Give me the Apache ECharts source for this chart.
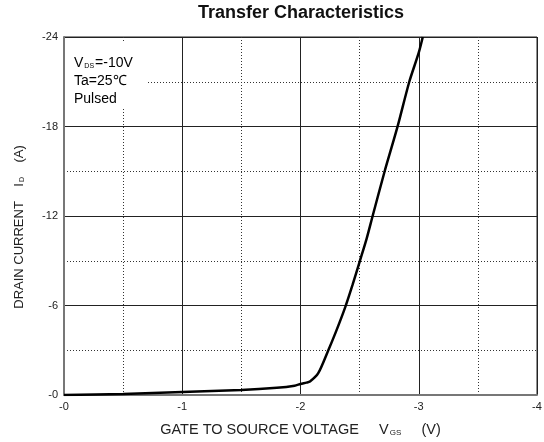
<!DOCTYPE html>
<html>
<head>
<meta charset="utf-8">
<script src="https://cdn.jsdelivr.net/npm/echarts@6/dist/echarts.min.js"></script>
<style>
  html, body { margin: 0; padding: 0; background: #fff; }
  #chart { width: 544px; height: 442px; }
</style>
</head>
<body>
<div id="chart"></div>
<script>
// Gate-source voltage (V) and drain current (A), VDS = -10 V, Ta = 25 °C, pulsed
const vgs = [0, -0.5, -1.0, -1.5, -1.8, -1.95, -2.0, -2.05, -2.08, -2.15, -2.23, -2.3, -2.38, -2.44, -2.5, -2.56, -2.61, -2.71, -2.82, -2.92, -3.0, -3.034];
const id  = [0, -0.07, -0.2, -0.33, -0.48, -0.62, -0.74, -0.83, -0.9, -1.46, -2.9, -4.25, -5.93, -7.38, -8.93, -10.5, -12.0, -14.95, -17.97, -21.0, -22.95, -24.0];

// Axis ranges and tick spacing
const xRange = { min: -4, max: 0, step: 1 };
const yRange = { min: -24, max: 0, step: 6 };

const conditions = ['VDS=-10V', 'Ta=25℃', 'Pulsed'];

const FONT = '"Liberation Sans", Arial, sans-serif';
const tickFmt = v => (v === 0 ? '-0' : String(v));

const chart = echarts.init(document.getElementById('chart'));

const gridLine = { show: true, lineStyle: { color: '#222', width: 1, type: 'solid' } };
const dotLine = { show: true, lineStyle: { color: '#333', width: 1, type: [1, 2] } };

chart.setOption({
  backgroundColor: '#fff',
  animation: false,
  title: {
    text: 'Transfer Characteristics',
    left: 193,
    top: -1,
    textStyle: { fontFamily: FONT, fontSize: 18, fontWeight: 'bold', color: '#111' }
  },
  grid: {
    left: 64, right: 7, top: 37, bottom: 47,
    containLabel: false,
    outerBoundsMode: 'none',
    show: true, borderColor: '#222', borderWidth: 1
  },
  xAxis: {
    type: 'value',
    min: xRange.min, max: xRange.max, interval: xRange.step,
    inverse: true,
    axisLine: { show: true, lineStyle: { color: '#777', width: 2 } },
    axisTick: { show: false },
    minorTick: { show: false, splitNumber: 2 },
    splitLine: gridLine,
    minorSplitLine: dotLine,
    axisLabel: { formatter: tickFmt, fontFamily: FONT, fontSize: 11, color: '#222', margin: 6 },
    name: '{t|GATE TO SOURCE VOLTAGE}{s|     }{t|V}{sub|GS}{s|     }{t|(V)}',
    nameLocation: 'middle',
    nameGap: 27,
    nameTextStyle: {
      rich: {
        t: { fontFamily: FONT, fontSize: 14.5, color: '#222' },
        s: { fontFamily: FONT, fontSize: 14.5 },
        sub: { fontFamily: FONT, fontSize: 8, color: '#222', verticalAlign: 'bottom', padding: [7, 0, 0, 1] }
      }
    }
  },
  yAxis: {
    type: 'value',
    min: yRange.min, max: yRange.max, interval: yRange.step,
    inverse: true,
    axisLine: { show: true, lineStyle: { color: '#777', width: 2 } },
    axisTick: { show: false },
    minorTick: { show: false, splitNumber: 2 },
    splitLine: gridLine,
    minorSplitLine: dotLine,
    axisLabel: { formatter: tickFmt, fontFamily: FONT, fontSize: 11, color: '#222', margin: 6 },
    name: '{t|DRAIN CURRENT}{s|    }{t|I}{sub|D}{s|    }{t|(A)}',
    nameLocation: 'middle',
    nameGap: 38,
    nameRotate: 90,
    nameTextStyle: {
      padding: [0, 22, 0, 0],
      rich: {
        t: { fontFamily: FONT, fontSize: 13, color: '#222' },
        s: { fontFamily: FONT, fontSize: 13 },
        sub: { fontFamily: FONT, fontSize: 7, color: '#222', verticalAlign: 'bottom', padding: [6, 0, 0, 1] }
      }
    }
  },
  series: [{
    type: 'line',
    data: vgs.map((v, i) => [v, id[i]]),
    showSymbol: false,
    smooth: 0.25,
    clip: true,
    lineStyle: { color: '#000', width: 2.5 },
    z: 5
  }],
  graphic: [
    {
      type: 'rect',
      shape: { x: 65, y: 43, width: 81, height: 66 },
      style: { fill: '#fff' },
      z: 10
    },
    {
      type: 'text',
      left: 74,
      top: 56,
      z: 11,
      style: {
        text: '{t|V}{sub|DS}{t|=-10V}\n{t|' + conditions[1] + '}\n{t|' + conditions[2] + '}',
        rich: {
          t: { fontFamily: FONT, fontSize: 14, color: '#222', lineHeight: 18 },
          sub: { fontFamily: FONT, fontSize: 7, color: '#222', lineHeight: 18, padding: [7, 1, 0, 1] }
        }
      }
    }
  ]
});
</script>
</body>
</html>
